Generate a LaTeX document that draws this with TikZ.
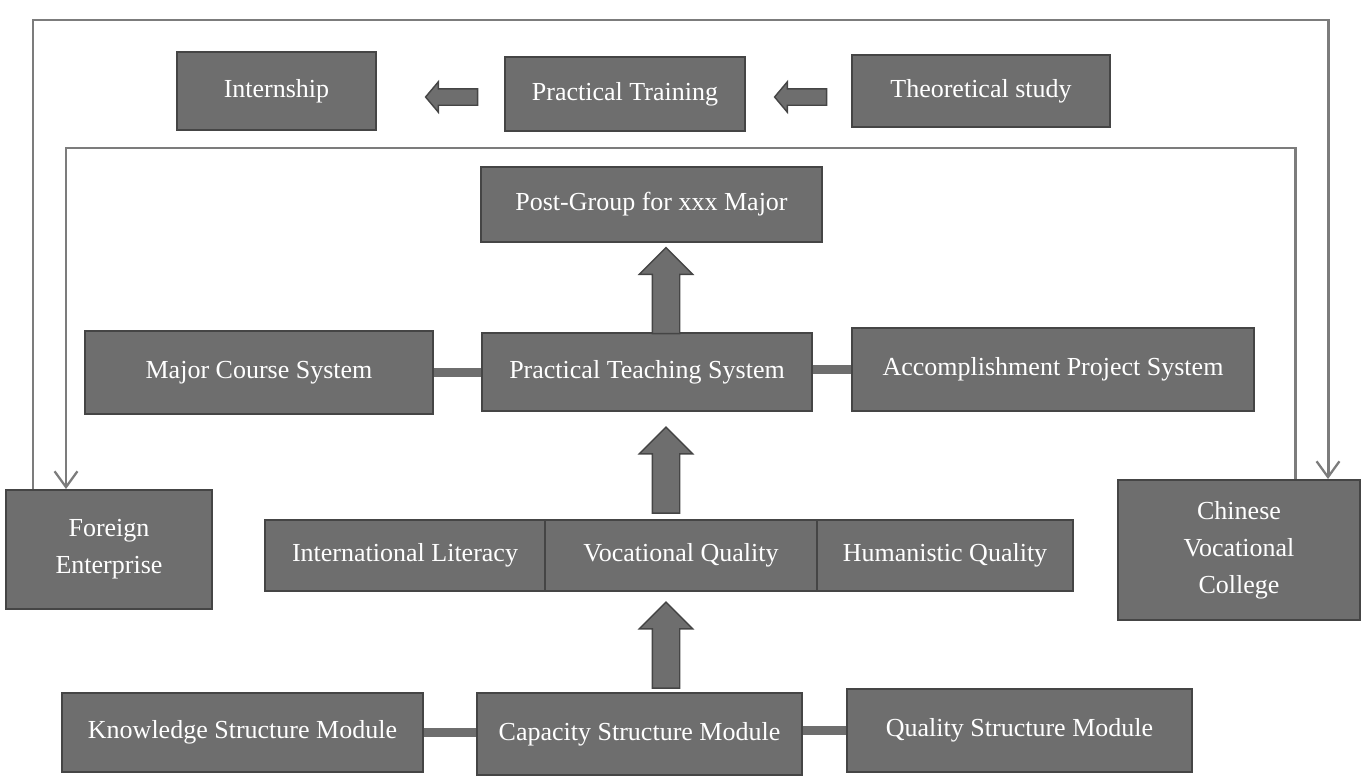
\documentclass[tikz,border=0pt]{standalone}
\usepackage{fontspec}
\setmainfont{Liberation Serif}
\usetikzlibrary{positioning}
\usetikzlibrary{calc}
\usetikzlibrary{arrows.meta}
\usetikzlibrary{shapes.arrows}
\definecolor{BoxFill}{HTML}{6E6E6E}
\definecolor{BoxLine}{HTML}{454545}
\definecolor{LineGray}{HTML}{7C7C7C}

\begin{document}
\begin{tikzpicture}[x=0.02cm,y=-0.02cm,
  box/.style={draw=BoxLine, line width=1.1pt, fill=BoxFill, text=white,
    font=\fontsize{14.8}{21}\selectfont, align=center, inner sep=0pt},
  link/.style={draw=BoxFill, line width=5.5pt},
  fb/.style={draw=LineGray, line width=1.7pt, -{Straight Barb[length=9pt,width=13pt,line width=1.3pt]}},
  fatup/.style={single arrow, draw=BoxLine, fill=BoxFill, line width=0.8pt,
    shape border rotate=90, minimum height=1.72cm, minimum width=1.04cm,
    single arrow head extend=0.26cm, single arrow tip angle=90, inner sep=0.26cm},
  fatleft/.style={single arrow, draw=BoxLine, fill=BoxFill, line width=0.8pt,
    shape border rotate=180, minimum height=1.04cm, minimum width=0.58cm,
    single arrow head extend=0.14cm, single arrow tip angle=100, inner sep=0.15cm}]
\useasboundingbox (0,0) rectangle (1364,778);

% top row
\node[box, minimum width=3.98cm, minimum height=1.56cm] (intern) at (276.5,91) {Internship};
\node[box, minimum width=4.8cm, minimum height=1.48cm] (train) at (625,94) {Practical Training};
\node[box, minimum width=5.16cm, minimum height=1.44cm] (theory) at (981,91) {Theoretical study};
\node[fatleft] (arrA) at (455,97) {};
\node[fatleft] (arrB) at (804,97) {};

% middle
\node[box, minimum width=6.82cm, minimum height=1.5cm] (post) at (651.5,204.5) {Post-Group for xxx Major};
\node[box, minimum width=6.96cm, minimum height=1.66cm] (major) at (259,372.5) {Major Course System};
\node[box, minimum width=6.6cm, minimum height=1.56cm] (teach) at (647,372) {Practical Teaching System};
\node[box, minimum width=8.04cm, minimum height=1.66cm] (accomp) at (1053,369.5) {Accomplishment Project System};

\node[box, minimum width=5.6cm, minimum height=1.42cm] (intl) at (405,555.5) {International Literacy};
\node[box, minimum width=5.44cm, minimum height=1.42cm] (voc) at (681,555.5) {Vocational Quality};
\node[box, minimum width=5.12cm, minimum height=1.42cm] (human) at (945,555.5) {Humanistic Quality};

\node[box, minimum width=4.12cm, minimum height=2.38cm] (foreign) at (109,549.5) {Foreign\\Enterprise};
\node[box, minimum width=4.84cm, minimum height=2.8cm] (college) at (1239,550) {Chinese\\Vocational\\College};

% bottom row
\node[box, minimum width=7.22cm, minimum height=1.58cm] (know) at (242.5,732.5) {Knowledge Structure Module};
\node[box, minimum width=6.5cm, minimum height=1.64cm] (capa) at (639.5,734) {Capacity Structure Module};
\node[box, minimum width=6.9cm, minimum height=1.66cm] (qual) at (1019.5,730.5) {Quality Structure Module};

% fat arrows upwards
\node[fatup] (upA) at (666,297.5) {};
\node[fatup] (upB) at (666,477) {};
\node[fatup] (upC) at (666,652) {};

% links
\draw[link] (major.east) -- (major.east -| teach.west);
\draw[link] (teach.east |- accomp.west) -- (accomp.west);
\draw[link] (know.east) -- (know.east -| capa.west);
\draw[link] (capa.east |- qual.west) -- (qual.west);

% feedback loops
\coordinate (outerNW) at (33,20);
\coordinate (outerNE) at (1328,20);
\coordinate (innerNW) at (66,148);
\coordinate (innerNE) at (1295,148);
\draw[fb] (foreign.north -| outerNW) -- (outerNW) -- (outerNE) -- (college.north -| outerNE);
\draw[fb] (college.north -| innerNE) -- (innerNE) -- (innerNW) -- (foreign.north -| innerNW);
\end{tikzpicture}
\end{document}
